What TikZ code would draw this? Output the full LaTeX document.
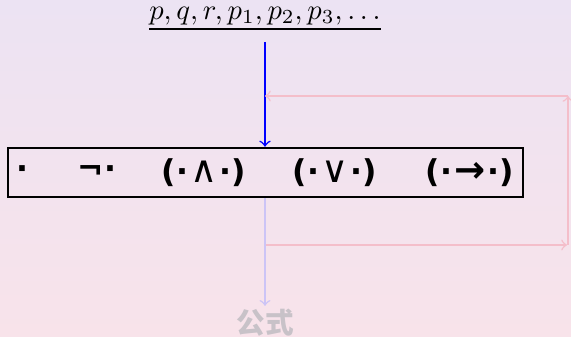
\documentclass[tikz,border=0pt]{standalone}
\usepackage{fontspec}
\newfontfamily\opfont{DejaVu Sans}
\newfontfamily\cjkfont{Noto Sans CJK SC}
\usetikzlibrary{positioning}

\definecolor{bgtop}{RGB}{236,227,243}
\definecolor{bgbot}{RGB}{248,227,234}
\definecolor{loopcol}{RGB}{244,190,202}
\definecolor{outcol}{RGB}{204,196,246}
\definecolor{resultcol}{RGB}{200,194,200}

% connective sign between the two dots
\newcommand{\connsym}[1]{\hspace{0.8pt}{\mdseries\fontsize{13}{12}\selectfont #1}\hspace{0.8pt}}

\begin{document}
\begin{tikzpicture}[
    x=0.35pt, y=-0.35pt,
    opbox/.style={draw, line width=0.9pt,
                  minimum width=180.25pt, minimum height=17.15pt,
                  inner sep=0pt},
    oplabel/.style={font=\opfont\bfseries\fontsize{11}{12}\selectfont,
                    inner sep=0pt},
    feedline/.style={->, draw=blue, line width=0.55pt},
    loopline/.style={->, draw=loopcol, line width=0.5pt},
    outline/.style={->, draw=outcol, line width=0.5pt},
    >=to
]

% --- BACKGROUND ---
\shade[top color=bgtop, bottom color=bgbot] (0,0) rectangle (571,337);
\useasboundingbox (0,0) rectangle (571,337);

% --- ATOMS ---
\node (atoms) at (265,19) {\underline{$p, q, r, p_1, p_2, p_3, \ldots$}};

% --- OPERATIONS ---
\node[opbox] (ops) at (265.5,172.5) {};
\foreach \i/\x/\t in {0/22/{·}, 1/97/{¬·},
                      2/204/{(·\connsym{∧}·)}, 3/335/{(·\connsym{∨}·)},
                      4/470/{(·\connsym{\bfseries→}·)}}
  \node[oplabel] (op\i) at (\x,172.5) {\t};

% IN
\coordinate (feedtop) at (265,42);
\draw[feedline] (feedtop) -- (feedtop |- ops.north);

% LOOP
\coordinate (loopin)  at (265,245);
\coordinate (loopbr)  at (567,245);
\coordinate (looptr)  at (568,96);
\coordinate (loopout) at (265,96);
\draw[loopline] (loopin) -- (loopbr);
\draw[loopline] (loopbr -| looptr) -- (looptr);
\draw[loopline] (looptr) -- (loopout);

% OUT
\node[font=\cjkfont\bfseries\fontsize{10}{12}\selectfont, text=resultcol,
      inner sep=0pt] (result) at (265,323) {公式};
\draw[outline] (ops.south -| feedtop) -- ([yshift=1pt]result.north);

\end{tikzpicture}
\end{document}
